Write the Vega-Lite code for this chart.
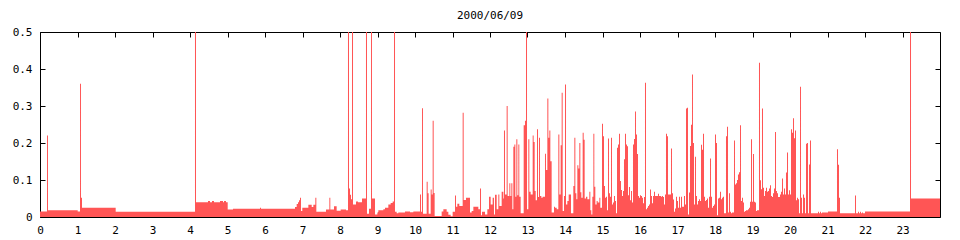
{
  "$schema": "https://vega.github.io/schema/vega-lite/v6.json",
  "width": 900,
  "height": 185,
  "autosize": {"type": "none"},
  "padding": {"left": 40, "top": 32, "right": 20, "bottom": 23},
  "background": "white",
  "title": {"text": "2000/06/09", "font": "DejaVu Sans Mono", "fontSize": 11, "fontWeight": "normal", "color": "#000", "offset": 5, "anchor": "middle"},
  "config": {
    "view": {"stroke": "#000", "strokeWidth": 1},
    "axis": {"labelFont": "DejaVu Sans Mono", "labelFontSize": 11, "labelColor": "#000", "tickColor": "#000", "tickSize": -5, "tickWidth": 1, "grid": false, "domain": false, "title": null}
  },
  "data": {"values": [
    {"h":0,"v":0.015},{"h":0.187,"v":0.22},{"h":0.213,"v":0.018},{"h":1.005,"v":0.015},{"h":1.067,"v":0.36},{"h":1.093,"v":0.052},{"h":1.12,"v":0.025},{"h":2.018,"v":0.0145},
    {"h":4.133,"v":0.5},{"h":4.16,"v":0.04},{"h":4.48,"v":0.043},{"h":4.533,"v":0.04},{"h":4.587,"v":0.043},{"h":4.64,"v":0.04},{"h":4.8,"v":0.043},{"h":4.88,"v":0.04},{"h":4.907,"v":0.043},{"h":4.96,"v":0.04},
    {"h":5.005,"v":0.02},{"h":5.147,"v":0.0225},{"h":5.867,"v":0.025},{"h":5.893,"v":0.0225},
    {"h":6.8,"v":0.027},{"h":6.845,"v":0.035},{"h":6.88,"v":0.04},{"h":6.907,"v":0.045},{"h":6.933,"v":0.052},{"h":6.96,"v":0.016},{"h":6.995,"v":0.025},
    {"h":7.156,"v":0.033},{"h":7.245,"v":0.027},{"h":7.289,"v":0.033},{"h":7.342,"v":0.052},{"h":7.369,"v":0.0145},{"h":7.627,"v":0.02},{"h":7.716,"v":0.052},{"h":7.742,"v":0.02},{"h":7.84,"v":0.029},{"h":7.911,"v":0.017},
    {"h":8.018,"v":0.02},{"h":8.16,"v":0.018},{"h":8.213,"v":0.5},{"h":8.24,"v":0.077},{"h":8.267,"v":0.06},{"h":8.293,"v":0.048},{"h":8.32,"v":0.5},{"h":8.347,"v":0.034},{"h":8.427,"v":0.042},{"h":8.48,"v":0.04},{"h":8.587,"v":0.05},{"h":8.693,"v":0.5},{"h":8.72,"v":0.009},{"h":8.773,"v":0.022},
    {"h":8.827,"v":0.5},{"h":8.853,"v":0.05},{"h":8.933,"v":0.007},{"h":8.996,"v":0.012},{"h":9.022,"v":0.018},{"h":9.156,"v":0.021},{"h":9.2,"v":0.025},{"h":9.289,"v":0.034},{"h":9.351,"v":0.038},{"h":9.404,"v":0.042},{"h":9.44,"v":0.5},{"h":9.467,"v":0.0145},
    {"h":9.511,"v":0.01},{"h":9.556,"v":0.012},{"h":9.733,"v":0.015},{"h":9.867,"v":0.013},{"h":9.956,"v":0.015},
    {"h":10.133,"v":0.061},{"h":10.16,"v":0.014},{"h":10.187,"v":0.294},{"h":10.213,"v":0.009},{"h":10.311,"v":0.095},{"h":10.338,"v":0.064},{"h":10.364,"v":0.009},{"h":10.418,"v":0.074},{"h":10.444,"v":0.061},{"h":10.471,"v":0.26},{"h":10.498,"v":0.065},{"h":10.524,"v":0.003},
    {"h":10.711,"v":0.015},{"h":10.756,"v":0.021},{"h":10.844,"v":0.014},{"h":10.889,"v":0.006},{"h":10.951,"v":0.002},
    {"h":11.004,"v":0.014},{"h":11.067,"v":0.058},{"h":11.093,"v":0.028},{"h":11.129,"v":0.036},{"h":11.182,"v":0.03},{"h":11.271,"v":0.282},{"h":11.298,"v":0.046},{"h":11.36,"v":0.052},
    {"h":11.467,"v":0.012},{"h":11.511,"v":0.016},{"h":11.556,"v":0.028},{"h":11.689,"v":0.021},{"h":11.733,"v":0.077},{"h":11.76,"v":0.005},{"h":11.787,"v":0.014},{"h":11.867,"v":0.007},{"h":11.929,"v":0.021},{"h":11.973,"v":0.055},
    {"h":12.018,"v":0.034},{"h":12.071,"v":0.052},{"h":12.107,"v":0.007},{"h":12.133,"v":0.06},{"h":12.178,"v":0.021},{"h":12.222,"v":0.061},{"h":12.249,"v":0.03},{"h":12.311,"v":0.068},{"h":12.356,"v":0.05},{"h":12.373,"v":0.234},{"h":12.4,"v":0.061},
    {"h":12.444,"v":0.3},{"h":12.471,"v":0.057},{"h":12.516,"v":0.091},{"h":12.542,"v":0.057},{"h":12.569,"v":0.091},{"h":12.596,"v":0.021},{"h":12.622,"v":0.19},{"h":12.649,"v":0.196},{"h":12.676,"v":0.055},{"h":12.702,"v":0.21},{"h":12.729,"v":0.059},{"h":12.756,"v":0.196},{"h":12.782,"v":0.055},
    {"h":12.818,"v":0.01},{"h":12.898,"v":0.248},{"h":12.933,"v":0.26},{"h":12.96,"v":0.5},{"h":12.987,"v":0.021},{"h":13.022,"v":0.21},{"h":13.049,"v":0.068},{"h":13.084,"v":0.061},{"h":13.138,"v":0.22},{"h":13.164,"v":0.203},{"h":13.191,"v":0.07},{"h":13.218,"v":0.045},
    {"h":13.253,"v":0.237},{"h":13.28,"v":0.054},{"h":13.307,"v":0.214},{"h":13.333,"v":0.057},{"h":13.369,"v":0.052},{"h":13.404,"v":0.055},{"h":13.467,"v":0.171},{"h":13.493,"v":0.127},{"h":13.529,"v":0.32},{"h":13.556,"v":0.214},{"h":13.582,"v":0.234},{"h":13.609,"v":0.151},
    {"h":13.644,"v":0.012},{"h":13.707,"v":0.028},{"h":13.733,"v":0.025},{"h":13.778,"v":0.021},{"h":13.822,"v":0.223},{"h":13.849,"v":0.061},{"h":13.884,"v":0.194},{"h":13.911,"v":0.336},{"h":13.938,"v":0.016},{"h":13.973,"v":0.057},
    {"h":14.0,"v":0.358},{"h":14.027,"v":0.034},{"h":14.062,"v":0.043},{"h":14.098,"v":0.061},{"h":14.16,"v":0.01},{"h":14.222,"v":0.084},{"h":14.249,"v":0.214},{"h":14.276,"v":0.064},{"h":14.302,"v":0.048},{"h":14.329,"v":0.14},{"h":14.356,"v":0.131},{"h":14.382,"v":0.2},
    {"h":14.409,"v":0.067},{"h":14.436,"v":0.052},{"h":14.471,"v":0.228},{"h":14.498,"v":0.209},{"h":14.524,"v":0.05},{"h":14.56,"v":0.055},{"h":14.596,"v":0.048},{"h":14.649,"v":0.068},{"h":14.676,"v":0.018},{"h":14.702,"v":0.007},{"h":14.729,"v":0.055},
    {"h":14.756,"v":0.225},{"h":14.782,"v":0.082},{"h":14.809,"v":0.034},{"h":14.844,"v":0.043},{"h":14.871,"v":0.039},{"h":14.916,"v":0.052},{"h":14.942,"v":0.025},{"h":14.987,"v":0.252},{"h":15.013,"v":0.218},{"h":15.04,"v":0.084},{"h":15.067,"v":0.052},
    {"h":15.093,"v":0.055},{"h":15.12,"v":0.018},{"h":15.147,"v":0.212},{"h":15.173,"v":0.064},{"h":15.2,"v":0.055},{"h":15.227,"v":0.214},{"h":15.253,"v":0.034},{"h":15.28,"v":0.039},{"h":15.307,"v":0.057},{"h":15.333,"v":0.043},{"h":15.36,"v":0.01},
    {"h":15.387,"v":0.187},{"h":15.413,"v":0.196},{"h":15.44,"v":0.225},{"h":15.467,"v":0.097},{"h":15.493,"v":0.073},{"h":15.52,"v":0.057},{"h":15.547,"v":0.07},{"h":15.573,"v":0.156},{"h":15.6,"v":0.225},{"h":15.627,"v":0.196},{"h":15.653,"v":0.191},
    {"h":15.68,"v":0.059},{"h":15.707,"v":0.081},{"h":15.733,"v":0.045},{"h":15.76,"v":0.07},{"h":15.787,"v":0.039},{"h":15.813,"v":0.196},{"h":15.84,"v":0.211},{"h":15.867,"v":0.285},{"h":15.893,"v":0.223},{"h":15.92,"v":0.17},{"h":15.947,"v":0.057},
    {"h":15.973,"v":0.052},{"h":16.0,"v":0.059},{"h":16.027,"v":0.057},{"h":16.053,"v":0.052},{"h":16.08,"v":0.037},{"h":16.107,"v":0.054},{"h":16.133,"v":0.363},{"h":16.16,"v":0.021},{"h":16.187,"v":0.025},{"h":16.213,"v":0.03},{"h":16.24,"v":0.034},
    {"h":16.267,"v":0.074},{"h":16.293,"v":0.057},{"h":16.32,"v":0.037},{"h":16.347,"v":0.057},{"h":16.373,"v":0.068},{"h":16.4,"v":0.057},{"h":16.48,"v":0.063},{"h":16.507,"v":0.057},{"h":16.56,"v":0.055},{"h":16.587,"v":0.057},{"h":16.613,"v":0.054},
    {"h":16.64,"v":0.034},{"h":16.667,"v":0.061},{"h":16.693,"v":0.225},{"h":16.72,"v":0.218},{"h":16.747,"v":0.061},{"h":16.827,"v":0.185},{"h":16.853,"v":0.064},{"h":16.88,"v":0.047},{"h":16.907,"v":0.014},{"h":16.933,"v":0.023},{"h":16.96,"v":0.055},
    {"h":16.987,"v":0.043},{"h":17.013,"v":0.025},{"h":17.04,"v":0.055},{"h":17.067,"v":0.025},{"h":17.093,"v":0.055},{"h":17.12,"v":0.028},{"h":17.173,"v":0.057},{"h":17.2,"v":0.034},{"h":17.227,"v":0.293},{"h":17.253,"v":0.295},{"h":17.28,"v":0.007},
    {"h":17.307,"v":0.066},{"h":17.333,"v":0.192},{"h":17.36,"v":0.249},{"h":17.387,"v":0.385},{"h":17.413,"v":0.2},{"h":17.44,"v":0.034},{"h":17.467,"v":0.163},{"h":17.493,"v":0.057},{"h":17.52,"v":0.034},{"h":17.547,"v":0.043},{"h":17.573,"v":0.048},
    {"h":17.6,"v":0.043},{"h":17.627,"v":0.195},{"h":17.653,"v":0.182},{"h":17.68,"v":0.225},{"h":17.707,"v":0.055},{"h":17.733,"v":0.043},{"h":17.76,"v":0.046},{"h":17.787,"v":0.05},{"h":17.813,"v":0.025},{"h":17.84,"v":0.055},{"h":17.867,"v":0.158},
    {"h":17.893,"v":0.055},{"h":17.92,"v":0.025},{"h":17.947,"v":0.03},{"h":17.973,"v":0.034},{"h":18.0,"v":0.223},{"h":18.027,"v":0.2},{"h":18.053,"v":0.005},{"h":18.08,"v":0.05},{"h":18.107,"v":0.052},{"h":18.133,"v":0.068},{"h":18.16,"v":0.048},
    {"h":18.187,"v":0.052},{"h":18.213,"v":0.055},{"h":18.24,"v":0.01},{"h":18.293,"v":0.218},{"h":18.32,"v":0.244},{"h":18.347,"v":0.012},{"h":18.373,"v":0.064},{"h":18.4,"v":0.014},{"h":18.427,"v":0.01},{"h":18.453,"v":0.012},{"h":18.507,"v":0.207},
    {"h":18.533,"v":0.088},{"h":18.56,"v":0.091},{"h":18.587,"v":0.1},{"h":18.613,"v":0.115},{"h":18.64,"v":0.121},{"h":18.667,"v":0.248},{"h":18.693,"v":0.043},{"h":18.72,"v":0.052},{"h":18.747,"v":0.039},{"h":18.773,"v":0.014},{"h":18.8,"v":0.016},
    {"h":18.827,"v":0.018},{"h":18.88,"v":0.021},{"h":18.907,"v":0.025},{"h":18.933,"v":0.041},{"h":18.96,"v":0.21},{"h":18.987,"v":0.041},{"h":19.013,"v":0.17},{"h":19.04,"v":0.041},{"h":19.067,"v":0.039},{"h":19.093,"v":0.016},{"h":19.12,"v":0.018},
    {"h":19.173,"v":0.417},{"h":19.2,"v":0.099},{"h":19.227,"v":0.075},{"h":19.253,"v":0.293},{"h":19.28,"v":0.079},{"h":19.307,"v":0.057},{"h":19.333,"v":0.07},{"h":19.36,"v":0.079},{"h":19.387,"v":0.068},{"h":19.413,"v":0.07},{"h":19.44,"v":0.077},
    {"h":19.467,"v":0.086},{"h":19.493,"v":0.057},{"h":19.52,"v":0.054},{"h":19.547,"v":0.064},{"h":19.573,"v":0.077},{"h":19.6,"v":0.23},{"h":19.627,"v":0.07},{"h":19.653,"v":0.064},{"h":19.68,"v":0.054},{"h":19.733,"v":0.061},{"h":19.76,"v":0.068},
    {"h":19.787,"v":0.104},{"h":19.813,"v":0.061},{"h":19.84,"v":0.077},{"h":19.867,"v":0.061},{"h":19.893,"v":0.12},{"h":19.92,"v":0.174},{"h":19.947,"v":0.061},{"h":19.973,"v":0.072},{"h":20.0,"v":0.061},{"h":20.027,"v":0.237},{"h":20.053,"v":0.228},
    {"h":20.08,"v":0.267},{"h":20.107,"v":0.213},{"h":20.133,"v":0.234},{"h":20.16,"v":0.045},{"h":20.187,"v":0.052},{"h":20.213,"v":0.048},{"h":20.24,"v":0.01},{"h":20.267,"v":0.352},{"h":20.293,"v":0.052},{"h":20.32,"v":0.01},{"h":20.347,"v":0.061},
    {"h":20.373,"v":0.052},{"h":20.4,"v":0.01},{"h":20.427,"v":0.198},{"h":20.453,"v":0.2},{"h":20.48,"v":0.01},{"h":20.507,"v":0.142},{"h":20.533,"v":0.207},{"h":20.56,"v":0.01},{"h":20.747,"v":0.014},{"h":20.773,"v":0.01},{"h":20.8,"v":0.014},
    {"h":20.827,"v":0.01},{"h":20.853,"v":0.012},{"h":21.013,"v":0.015},{"h":21.253,"v":0.183},{"h":21.28,"v":0.141},{"h":21.307,"v":0.052},{"h":21.333,"v":0.01},{"h":21.733,"v":0.058},{"h":21.76,"v":0.01},{"h":21.813,"v":0.014},{"h":21.84,"v":0.01},
    {"h":21.867,"v":0.014},{"h":21.893,"v":0.01},{"h":21.92,"v":0.012},{"h":21.947,"v":0.01},{"h":22.0,"v":0.015},{"h":23.2,"v":0.5},{"h":23.227,"v":0.05},{"h":24,"v":0.05}
  ]},
  "layer": [
    {
      "mark": {"type": "area", "interpolate": "step-after", "color": "#ff5555", "clip": true},
      "encoding": {
        "x": {"field": "h", "type": "quantitative", "scale": {"domain": [0, 24], "nice": false, "zero": false},
              "axis": {"orient": "bottom", "values": [0,1,2,3,4,5,6,7,8,9,10,11,12,13,14,15,16,17,18,19,20,21,22,23], "format": "d", "labelPadding": 12, "labelFlush": false, "labelOverlap": false}},
        "y": {"field": "v", "type": "quantitative", "scale": {"domain": [0, 0.5], "nice": false},
              "axis": {"orient": "left", "values": [0, 0.1, 0.2, 0.3, 0.4, 0.5], "format": "~g", "labelPadding": 13, "labelFlush": false, "labelOverlap": false}}
      }
    },
    {
      "mark": {"type": "area", "interpolate": "step-after", "opacity": 0},
      "encoding": {
        "x": {"field": "h", "type": "quantitative", "axis": {"orient": "top", "values": [0,1,2,3,4,5,6,7,8,9,10,11,12,13,14,15,16,17,18,19,20,21,22,23], "labels": false}},
        "y": {"field": "v", "type": "quantitative", "axis": {"orient": "right", "values": [0, 0.1, 0.2, 0.3, 0.4, 0.5], "labels": false}}
      }
    }
  ],
  "resolve": {"axis": {"x": "independent", "y": "independent"}}
}
